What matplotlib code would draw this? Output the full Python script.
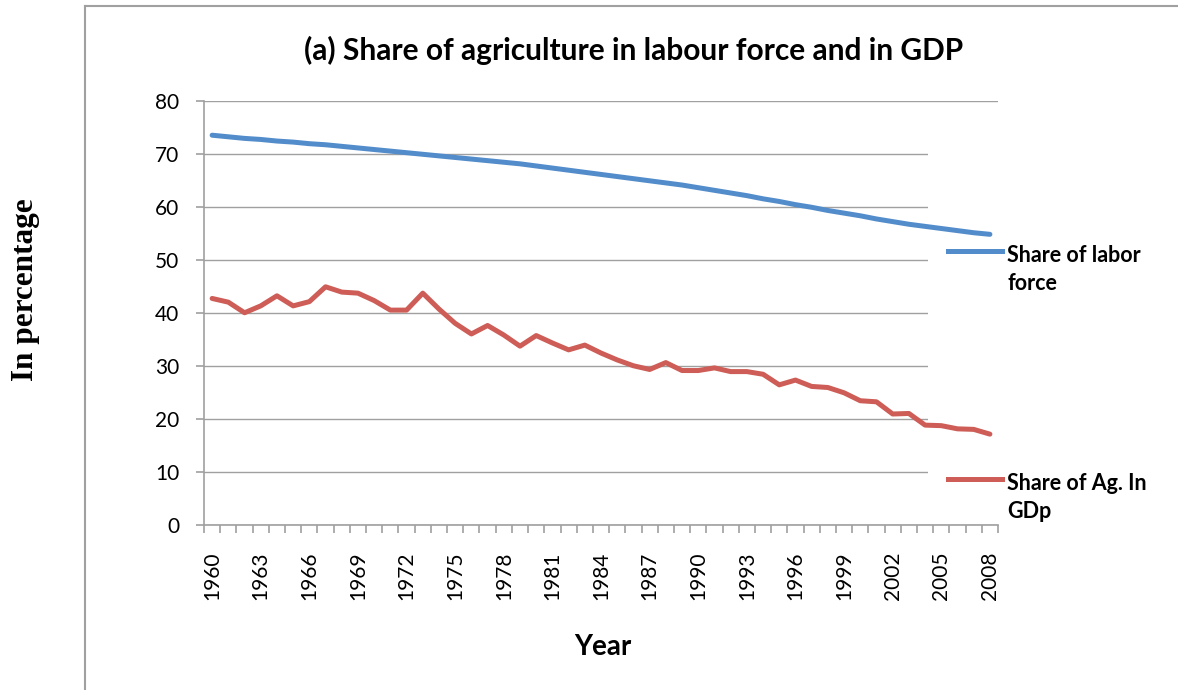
#!/usr/bin/env python3
"""
Share of agriculture in labour force and in GDP, 1960-2008
"""

import numpy as np
import matplotlib
matplotlib.use('Agg')
import matplotlib.pyplot as plt
from matplotlib.lines import Line2D
from matplotlib.patches import Rectangle

years = list(range(1960, 2009))

labor_share = [
    73.6, 73.3, 73.0, 72.8, 72.5, 72.3, 72.0, 71.8, 71.5, 71.2,
    70.9, 70.6, 70.3, 70.0, 69.7, 69.4, 69.1, 68.8, 68.5, 68.2,
    67.8, 67.4, 67.0, 66.6, 66.2, 65.8, 65.4, 65.0, 64.6, 64.2,
    63.7, 63.2, 62.7, 62.2, 61.6, 61.1, 60.5, 60.0, 59.4, 58.9,
    58.4, 57.8, 57.3, 56.8, 56.4, 56.0, 55.6, 55.2, 54.9,
]

gdp_share = [
    42.8, 42.1, 40.1, 41.4, 43.3, 41.4, 42.2, 45.0, 44.0, 43.8,
    42.4, 40.6, 40.6, 43.8, 40.8, 38.1, 36.1, 37.7, 35.9, 33.8,
    35.8, 34.4, 33.1, 34.0, 32.5, 31.2, 30.1, 29.4, 30.7, 29.2,
    29.2, 29.7, 29.0, 29.0, 28.5, 26.5, 27.4, 26.2, 26.0, 25.0,
    23.5, 23.3, 21.0, 21.1, 18.9, 18.8, 18.2, 18.1, 17.2,
]

series_labels = ['Share of labor\nforce', 'Share of Ag. In\nGDp']
title = '(a) Share of agriculture in labour force and in GDP'

BLUE = '#538CCB'
RED = '#CD5D56'
GREY = '#A0A0A0'
FONT = 'Lato'
W, H = 1178, 690


def px(xp, yp):
    """pixel position (from top left) to figure fraction"""
    return xp / W, 1 - yp / H


def main():
    fig = plt.figure(figsize=(W / 100, H / 100), dpi=100)
    ax = fig.add_axes([0.1732, 0.2387, 0.674, 0.6145])

    x = np.arange(len(years))
    ax.plot(x, labor_share, color=BLUE, linewidth=3.6, zorder=3,
            solid_capstyle='round', solid_joinstyle='round')
    ax.plot(x, gdp_share, color=RED, linewidth=3.6, zorder=3,
            solid_capstyle='round', solid_joinstyle='round')

    ax.set_xlim(-0.5, len(years) - 0.5)
    ax.set_ylim(0, 80)

    # gridlines and axes
    ax.set_yticks(range(0, 81, 10))
    ax.yaxis.grid(True, color=GREY, linewidth=1.0, zorder=0)
    ax.set_axisbelow(True)
    for side in ['top', 'right']:
        ax.spines[side].set_visible(False)
    for side in ['left', 'bottom']:
        ax.spines[side].set_color(GREY)
        ax.spines[side].set_linewidth(1.2)

    ax.set_xticks(x[::3])
    ax.set_xticklabels([str(y) for y in years[::3]], rotation=90,
                       fontsize=15, family=FONT)
    ax.set_xticks(np.arange(-0.5, len(years), 1), minor=True)
    ax.tick_params(axis='x', which='major', length=0, pad=19)
    ax.tick_params(axis='x', which='minor', length=6, width=1.2, color=GREY)
    ax.tick_params(axis='y', length=6, width=1.2, color=GREY, pad=12,
                   labelsize=15)
    for lbl in ax.get_yticklabels():
        lbl.set_family(FONT)

    # white legend area hides the gridlines on the right
    ax.add_patch(Rectangle((0.912, 0.003), 0.2, 0.906, transform=ax.transAxes,
                           facecolor='white', edgecolor='none', zorder=1.5,
                           clip_on=False))

    # legend entries: sample line beside the first line of a two-line label
    legend_rows = [(BLUE, series_labels[0], 251), (RED, series_labels[1], 479)]
    for color, label, yp in legend_rows:
        x0, y0 = px(948, yp)
        x1, _ = px(1002, yp)
        fig.add_artist(Line2D([x0, x1], [y0, y0], color=color, linewidth=3.6,
                              transform=fig.transFigure))
        for i, line in enumerate(label.split('\n')):
            tx, ty = px(1007, yp + 10.5 + 28.5 * i)
            fig.text(tx, ty, line, ha='left', va='baseline', fontsize=15.5,
                     fontweight='bold', family=FONT)

    fig.text(0.538, 0.9275, title, ha='center', va='center',
             fontsize=21.5, fontweight='bold', family=FONT)
    fig.text(0.512, 0.062, 'Year', ha='center', va='center',
             fontsize=20, fontweight='bold', family=FONT)
    fig.text(0.022, 0.58, 'In percentage', ha='center', va='center',
             rotation=90, fontsize=22.5, fontweight='bold',
             family='Liberation Serif')

    # outer chart border (top and left edges visible)
    fig.add_artist(Line2D([0.072, 1.0], [0.991, 0.991], color=GREY,
                          linewidth=1.5, transform=fig.transFigure))
    fig.add_artist(Line2D([0.072, 0.072], [0.0, 0.991], color=GREY,
                          linewidth=1.5, transform=fig.transFigure))

    fig.savefig('out.png', dpi=100)


if __name__ == "__main__":
    main()
